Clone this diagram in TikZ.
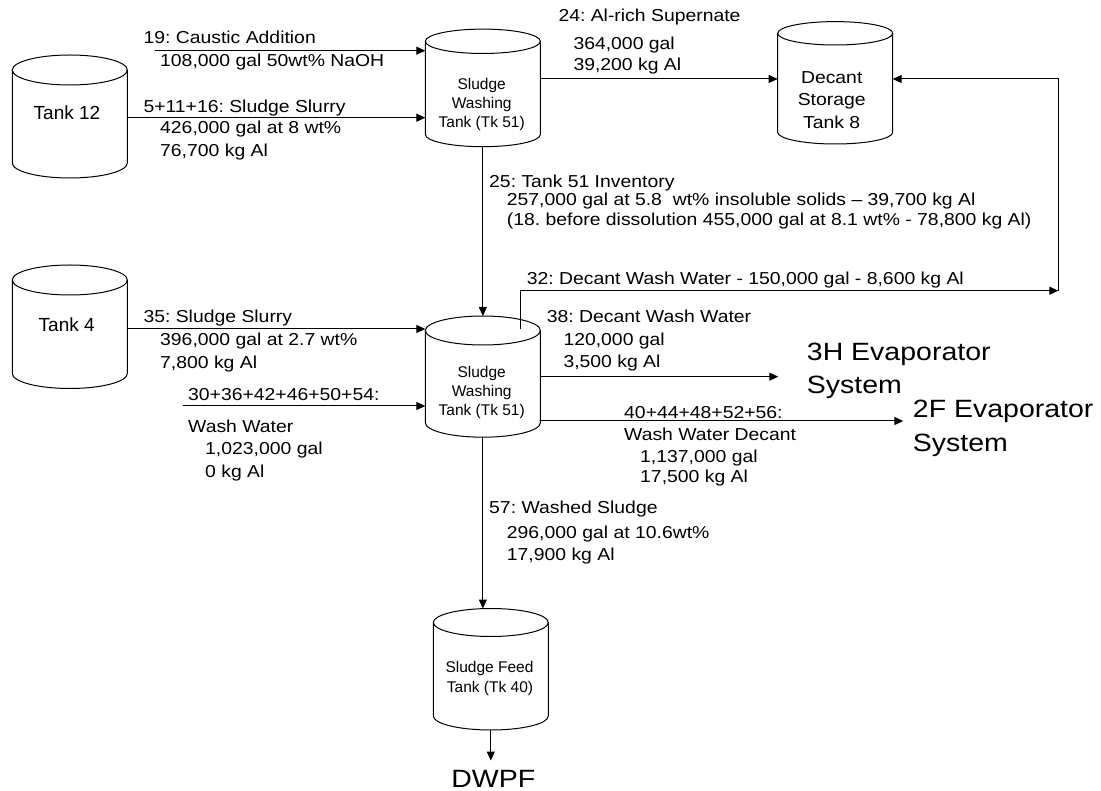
\documentclass[tikz,border=0pt]{standalone}
\usepackage{fontspec}
\setmainfont{Liberation Sans}
\newfontfamily\lblfamily{Liberation Sans}[FakeStretch=1.12]
\newfontfamily\bigfamily{Liberation Sans}[FakeStretch=1.14]
\usetikzlibrary{arrows.meta}
\frenchspacing
\tikzset{
  tankbox/.style={minimum width=115pt, inner sep=0pt, outer sep=0pt, draw=none},
  tankline/.style={line width=1pt},
  arr/.style={line width=1pt, -{Triangle[length=9pt,width=8pt]}},
  lbl/.style={anchor=base west, inner sep=0pt, font=\lblfamily\fontsize{17.3}{20}\selectfont},
  tklbl/.style={anchor=base, inner sep=0pt, font=\fontsize{15.5}{19}\selectfont},
  tkname/.style={anchor=base, inner sep=0pt, font=\fontsize{19}{22}\selectfont},
  dcname/.style={anchor=base, inner sep=0pt, font=\lblfamily\fontsize{17.3}{20}\selectfont},
  big/.style={anchor=base west, inner sep=0pt, font=\bigfamily\fontsize{25}{30}\selectfont},
}
\newcommand{\drawtank}[5]{%
  \pgfmathsetmacro{\tkmid}{(#3+#4)/2}%
  \pgfmathsetmacro{\tkht}{#4-#3+2*#5}%
  \node[tankbox, minimum height=\tkht pt] (#1) at (#2,\tkmid) {};
  \draw[tankline] (#2-57.5,#3) -- (#2-57.5,#4) arc[start angle=180,end angle=360,x radius=57.5pt,y radius=#5pt] -- (#2+57.5,#3);
  \draw[tankline] (#2,#3) ellipse[x radius=57.5pt,y radius=#5pt];
}
\begin{document}
\begin{tikzpicture}[x=1pt,y=-1pt]
\useasboundingbox (0,0) rectangle (1101,791);
% tanks
\drawtank{tank12}{69.8}{70}{163}{15}
\drawtank{tkA}{482.85}{41.3}{134.5}{12.2}
\drawtank{decant}{835.2}{33.3}{132.3}{11.7}
\drawtank{tank4}{69.8}{280}{373.5}{15}
\drawtank{tkB}{482.85}{330.5}{422.7}{14.5}
\drawtank{tkC}{490.8}{622.5}{716}{14}
% tank texts
\node[tkname] (n12) at (67,120) {Tank 12};
\node[tkname] (n4) at (66.7,331.7) {Tank 4};
\node[tklbl] (a1) at (481.7,90) {Sludge};
\node[tklbl] (a2) at (481.7,108.5) {Washing};
\node[tklbl] (a3) at (481.7,128) {Tank (Tk 51)};
\node[dcname] (d1) at (831.7,83.3) {Decant};
\node[dcname] (d2) at (831.7,106) {Storage};
\node[dcname] (d3) at (831.7,129) {Tank 8};
\node[tklbl] (b1) at (481.7,378) {Sludge};
\node[tklbl] (b2) at (481.7,396.5) {Washing};
\node[tklbl] (b3) at (481.7,415.7) {Tank (Tk 51)};
\node[tklbl] (c1) at (489.5,672.3) {Sludge Feed};
\node[tklbl] (c2) at (490,692.3) {Tank (Tk 40)};
% big destination texts
\node[big] (ev3a) at (806.7,360.7) {3H Evaporator};
\node[big] (ev3b) at (806.7,393.3) {System};
\node[big] (ev2a) at (912.7,417.3) {2F Evaporator};
\node[big] (ev2b) at (912.7,451.7) {System};
\node[big, anchor=base, inner ysep=9.4pt] (dwpf) at (493.3,787.3) {DWPF};
% coordinates
\coordinate (s19) at (155,50.7);
\coordinate (y12) at (0,117.7);
\coordinate (y24) at (0,79);
\coordinate (ret) at (1058.3,290.7);
\coordinate (s32) at (520.7,329);
\coordinate (y35) at (0,329);
\coordinate (sww) at (183.3,406);
\coordinate (e38) at (778.3,376.7);
\coordinate (e40) at (903.3,421);
% connectors
\draw[arr] (s19) -- (s19 -| tkA.west);
\draw[arr] (tank12.east |- y12) -- (tkA.west |- y12);
\draw[arr] (tkA.east |- y24) -- (decant.west |- y24);
\draw[arr] (ret) |- (decant.east |- y24);
\draw[arr] (tkA.south) -- (tkB.north);
\draw[arr] (s32) |- (ret);
\draw[arr] (tank4.east |- y35) -- (tkB.west |- y35);
\draw[arr] (sww) -- (sww -| tkB.west);
\draw[arr] (tkB.east |- e38) -- (e38);
\draw[arr] (tkB.east |- e40) -- (e40);
\draw[arr] (tkB.south) -- (tkB.south |- tkC.north);
\draw[arr] (tkC.south) -- (tkC.south |- dwpf.north);
% labels
\node[lbl] (l19a) at (143.3,44) {19: Caustic Addition};
\node[lbl] (l19b) at (160,66.7) {108,000 gal 50wt\% NaOH};
\node[lbl] (l5a) at (143.3,112.3) {5+11+16: Sludge Slurry};
\node[lbl] (l5b) at (160,133.5) {426,000 gal at 8 wt\%};
\node[lbl] (l5c) at (160,156.7) {76,700 kg Al};
\node[lbl] (l24a) at (558.3,21.7) {24: Al-rich Supernate};
\node[lbl] (l24b) at (573.3,49.3) {364,000 gal};
\node[lbl] (l24c) at (573.3,71) {39,200 kg Al};
\node[lbl] (l25a) at (489,187.7) {25: Tank 51 Inventory};
\node[lbl] (l25b) at (506.7,206) {257,000 gal at 5.8~~wt\% insoluble solids – 39,700 kg Al};
\node[lbl] (l25c) at (506.7,225.5) {(18. before dissolution 455,000 gal at 8.1 wt\% - 78,800 kg Al)};
\node[lbl] (l32) at (526.7,284.3) {32: Decant Wash Water - 150,000 gal - 8,600 kg Al};
\node[lbl] (l35a) at (143.3,322.7) {35: Sludge Slurry};
\node[lbl] (l35b) at (160,345.3) {396,000 gal at 2.7 wt\%};
\node[lbl] (l35c) at (160,369) {7,800 kg Al};
\node[lbl] (l30a) at (188,400.5) {30+36+42+46+50+54:};
\node[lbl] (l30b) at (188,432.7) {Wash Water};
\node[lbl] (l30c) at (205,455) {1,023,000 gal};
\node[lbl] (l30d) at (205,477.7) {0 kg Al};
\node[lbl] (l38a) at (546.7,322.7) {38: Decant Wash Water};
\node[lbl] (l38b) at (563.3,345.7) {120,000 gal};
\node[lbl] (l38c) at (563.3,367.7) {3,500 kg Al};
\node[lbl] (l40a) at (624,418.3) {40+44+48+52+56:};
\node[lbl] (l40b) at (624,441) {Wash Water Decant};
\node[lbl] (l40c) at (640,462.7) {1,137,000 gal};
\node[lbl] (l40d) at (640,482.7) {17,500 kg Al};
\node[lbl] (l57a) at (489,514) {57: Washed Sludge};
\node[lbl] (l57b) at (506.7,538.5) {296,000 gal at 10.6wt\%};
\node[lbl] (l57c) at (506.7,560.5) {17,900 kg Al};
\end{tikzpicture}
\end{document}
